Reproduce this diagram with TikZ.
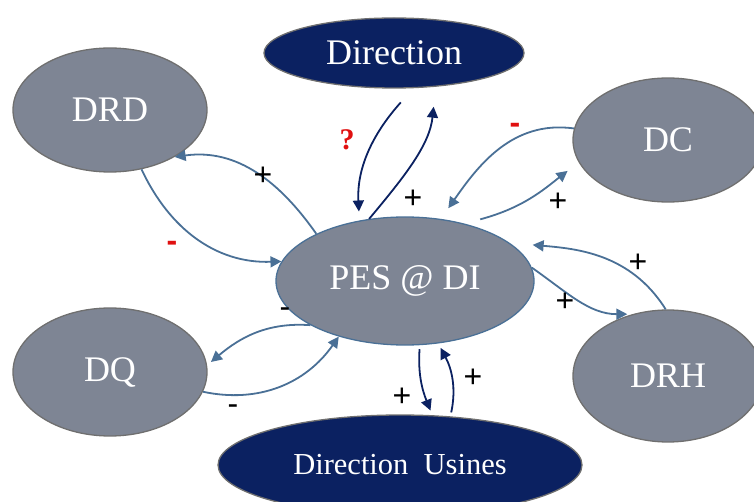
\documentclass[tikz,border=0pt]{standalone}
\usepackage{fontspec}
\setmainfont{Liberation Serif}
\newfontfamily\signfont{Liberation Sans}
\usetikzlibrary{shapes.geometric,arrows.meta}
\definecolor{ellgray}{HTML}{7E8594}
\definecolor{navy}{HTML}{0B2161}
\definecolor{steel}{HTML}{4A7096}
\definecolor{rimgray}{HTML}{6F6F6F}
\definecolor{signred}{HTML}{E01010}
\tikzset{
  ell/.style={ellipse, inner sep=0pt, draw=rimgray, line width=1.3pt, fill=ellgray,
              text=white, font=\fontsize{36}{40}\selectfont},
  navyell/.style={ell, fill=navy},
  conn/.style={draw=steel, line width=1.8pt, -{Triangle[length=11pt,width=11pt]}},
  navyconn/.style={conn, draw=navy},
  sign/.style={font=\signfont\fontsize{32}{34}\selectfont, text=black},
  redsign/.style={font=\signfont\bfseries\fontsize{32}{34}\selectfont, text=signred},
  qsign/.style={font=\bfseries\fontsize{30}{32}\selectfont, text=signred}
}
\begin{document}
\begin{tikzpicture}[x=1pt,y=1pt]
\useasboundingbox (0,0) rectangle (754,501);
\node[navyell, minimum width=260pt, minimum height=70pt] (dir) at (394,448) {Direction};
\node[ell, minimum width=194pt, minimum height=124pt] (drd) at (110,391) {DRD};
\node[ell, minimum width=190pt, minimum height=124pt] (dc) at (668,361) {DC};
\node[ell, draw=steel, minimum width=258pt, minimum height=128pt] (pes) at (405,220) {PES @ DI};
\node[ell, minimum width=194pt, minimum height=128pt] (dq) at (110,129) {DQ};
\node[ell, minimum width=190pt, minimum height=132pt] (drh) at (668,125) {DRH};
\node[navyell, minimum width=364pt, minimum height=100pt, font=\fontsize{30.5}{34}\selectfont] (usi) at (400,36) {Direction\enspace Usines};

% DRD <-> PES
\draw[conn] (drd.-62) to[out=-65, in=182] (pes.171);
\draw[conn] (pes.152) to[out=125, in=8] (drd.-36);
% Direction <-> PES
\draw[navyconn, shorten <=19pt, shorten >=9pt] (dir.-61) to[out=228, in=93] (pes.127);
\draw[navyconn, shorten >=20pt] (pes.120) to[out=50, in=-96] (dir.-39);
% DC <-> PES
\draw[conn, shorten >=13pt] (dc.173) to[out=172, in=55] (pes.60);
\draw[conn, shorten >=14pt] ([yshift=9pt]pes.35) to[out=15, in=218] (dc.194);
% DRH <-> PES
\draw[conn, shorten >=23pt] (drh.92) to[out=122, in=-5] (pes.20);
\draw[conn, shorten >=5pt] (pes.6) to[out=-35, in=180] (drh.120);
% DQ <-> PES
\draw[conn, shorten >=5pt] (pes.205) to[out=176, in=40] (dq.4);
\draw[conn] (dq.-12) to[out=-12, in=235] (pes.-140);
% Usines <-> PES
\draw[navyconn, shorten <=4pt, shorten >=5pt] (pes.-77) to[out=-94, in=112] (usi.57);
\draw[navyconn, shorten <=4pt, shorten >=5pt] (usi.44) to[out=78, in=-62] (pes.-62);

% labels
\node[redsign] (l1) at (172,255) {-};
\node[sign] (l2) at (263,325) {+};
\node[qsign] (l3) at (347,361) {?};
\node[sign] (l4) at (413,302) {+};
\node[redsign] (l5) at (515,373) {-};
\node[sign] (l6) at (558,299) {+};
\node[sign] (l7) at (638,238) {+};
\node[sign] (l8) at (565,199) {+};
\node[sign] (l9) at (285,188) {-};
\node[sign] (l10) at (233,91) {-};
\node[sign] (l11) at (402,104) {+};
\node[sign] (l12) at (473,123) {+};
\end{tikzpicture}
\end{document}
